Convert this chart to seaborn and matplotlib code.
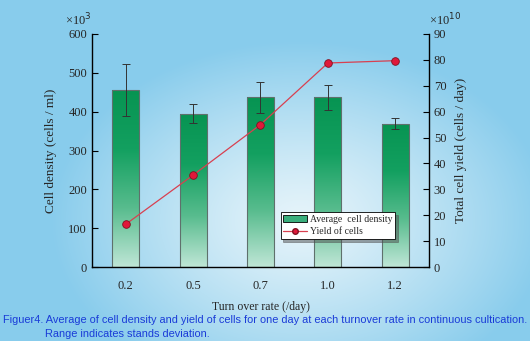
import numpy as np
import pandas as pd
import matplotlib
matplotlib.use("Agg")
import matplotlib.pyplot as plt
from matplotlib.patches import Patch
from matplotlib.lines import Line2D
from matplotlib.colors import LinearSegmentedColormap
import seaborn as sns

# ---- data ----
categories = ["0.2", "0.5", "0.7", "1.0", "1.2"]
density = [455, 395, 437, 437, 369]          # x10^3 cells/ml
density_sd = [67, 24, 40, 32, 14]
yield_cells = [16.5, 35.5, 55, 78.8, 79.7]   # x10^10 cells/day

left_ticks = [0, 100, 200, 300, 400, 500, 600]
right_ticks = [0, 10, 20, 30, 40, 50, 60, 70, 80, 90]

sns.set_theme(style="white")
plt.rcParams["font.family"] = ["Liberation Serif", "DejaVu Serif"]

fig = plt.figure(figsize=(5.3, 3.41), dpi=100)

# background gradient
bg = fig.add_axes([0, 0, 1, 1], zorder=-10)
H, W = 341, 530
yy, xx = np.mgrid[0:H, 0:W]
r = np.sqrt(((xx - 300) / 250.0) ** 2 + ((yy - 220) / 180.0) ** 2)
r = np.clip(r, 0, 1)
c_in = np.array([230, 244, 250]) / 255.0
c_out = np.array([136, 204, 236]) / 255.0
img = c_in[None, None, :] * (1 - r[..., None] ** 1.2) + c_out[None, None, :] * (r[..., None] ** 1.2)
bg.imshow(img, aspect="auto", extent=[0, 1, 0, 1], origin="upper")
bg.axis("off")

ax = fig.add_axes([0.1736, 0.217, 0.6358, 0.6833])
ax.patch.set_alpha(0)

df = pd.DataFrame({"rate": categories, "density": density})
sns.barplot(data=df, x="rate", y="density", ax=ax, width=0.4,
            color="#0a9a5a", edgecolor="#5f706c", linewidth=0.8, errorbar=None)

# gradient fill for bars
green = LinearSegmentedColormap.from_list("g", ["#bfe6d6", "#58bc8e", "#13a060", "#079452"])
grad = np.linspace(0, 1, 256).reshape(-1, 1)
for p in ax.patches:
    x0, y0 = p.get_x(), p.get_y()
    w, h = p.get_width(), p.get_height()
    im = ax.imshow(grad, cmap=green, origin="lower", aspect="auto",
                   extent=[x0, x0 + w, y0, y0 + h], zorder=1.5)
    im.set_clip_path(p)
    p.set_facecolor("none")
    p.set_zorder(2)

ax.errorbar(np.arange(len(categories)), density, yerr=density_sd, fmt="none",
            ecolor="#333333", elinewidth=0.7, capsize=3, capthick=0.7, zorder=3)

ax.set_xlim(-0.5, len(categories) - 0.5)
ax.set_ylim(0, 600)
ax.set_yticks(left_ticks)
ax.set_xticks(np.arange(len(categories)))
ax.set_xticklabels(categories, fontsize=9)
ax.set_xticks(np.arange(len(categories) - 1) + 0.5, minor=True)
ax.tick_params(axis="x", which="major", length=0, pad=9)
ax.tick_params(axis="x", which="minor", direction="in", length=4, width=0.8, color="black")
ax.tick_params(axis="y", direction="in", length=4, width=0.8, labelsize=9, left=True, color="black")
ax.set_xlabel("Turn over rate (/day)", fontsize=8.5, labelpad=7)
ax.set_ylabel("Cell density (cells / ml)", fontsize=9.5, labelpad=8)
for s in ["top", "right"]:
    ax.spines[s].set_visible(False)
for s in ["left", "bottom"]:
    ax.spines[s].set_color("black")
    ax.spines[s].set_linewidth(1.0)
ax.text(0.0, 1.025, "×10$^3$", transform=ax.transAxes, fontsize=9, ha="right", va="bottom")

ax2 = ax.twinx()
sns.lineplot(x=np.arange(len(categories)), y=yield_cells, ax=ax2, color="#d84050",
             linewidth=0.9, marker="o", markersize=5.5, markerfacecolor="#e0183a",
             markeredgecolor="#801020", markeredgewidth=0.6, zorder=5)
ax2.set_ylim(0, 90)
ax2.set_yticks(right_ticks)
ax2.tick_params(axis="y", direction="in", length=4, width=0.8, labelsize=9, right=True, color="black")
ax2.set_ylabel("Total cell yield (cells / day)", fontsize=9.5, labelpad=6)
for s in ["top", "left", "bottom"]:
    ax2.spines[s].set_visible(False)
ax2.spines["right"].set_color("black")
ax2.spines["right"].set_linewidth(1.0)
ax2.text(1.0, 1.025, "×10$^{10}$", transform=ax2.transAxes, fontsize=9, ha="left", va="bottom")

handles = [Patch(facecolor="#3aae7c", edgecolor="black", linewidth=0.6),
           Line2D([0], [0], color="#d84050", lw=0.9, marker="o", markersize=4,
                  markerfacecolor="#e0183a", markeredgecolor="#801020")]
leg = ax2.legend(handles, ["Average  cell density", "Yield of cells"],
                 loc="lower left", bbox_to_anchor=(0.545, 0.1), fontsize=7,
                 frameon=True, fancybox=False, shadow=True, borderpad=0.3,
                 handlelength=2.4, handletextpad=0.3, labelspacing=0.3)
leg.get_frame().set_edgecolor("black")
leg.get_frame().set_linewidth(0.6)

cap_font = ["Liberation Sans", "DejaVu Sans"]
fig.text(3 / 530, 1 - 320 / 341, "Figuer4. Average of cell density and yield of cells for one day at each turnover rate in continuous cultication.",
         fontsize=7.95, color="#1a3cd8", family=cap_font, va="center", ha="left")
fig.text(45 / 530, 1 - 334 / 341, "Range indicates stands deviation.",
         fontsize=7.95, color="#1a3cd8", family=cap_font, va="center", ha="left")

fig.savefig("out.png", dpi=100)
